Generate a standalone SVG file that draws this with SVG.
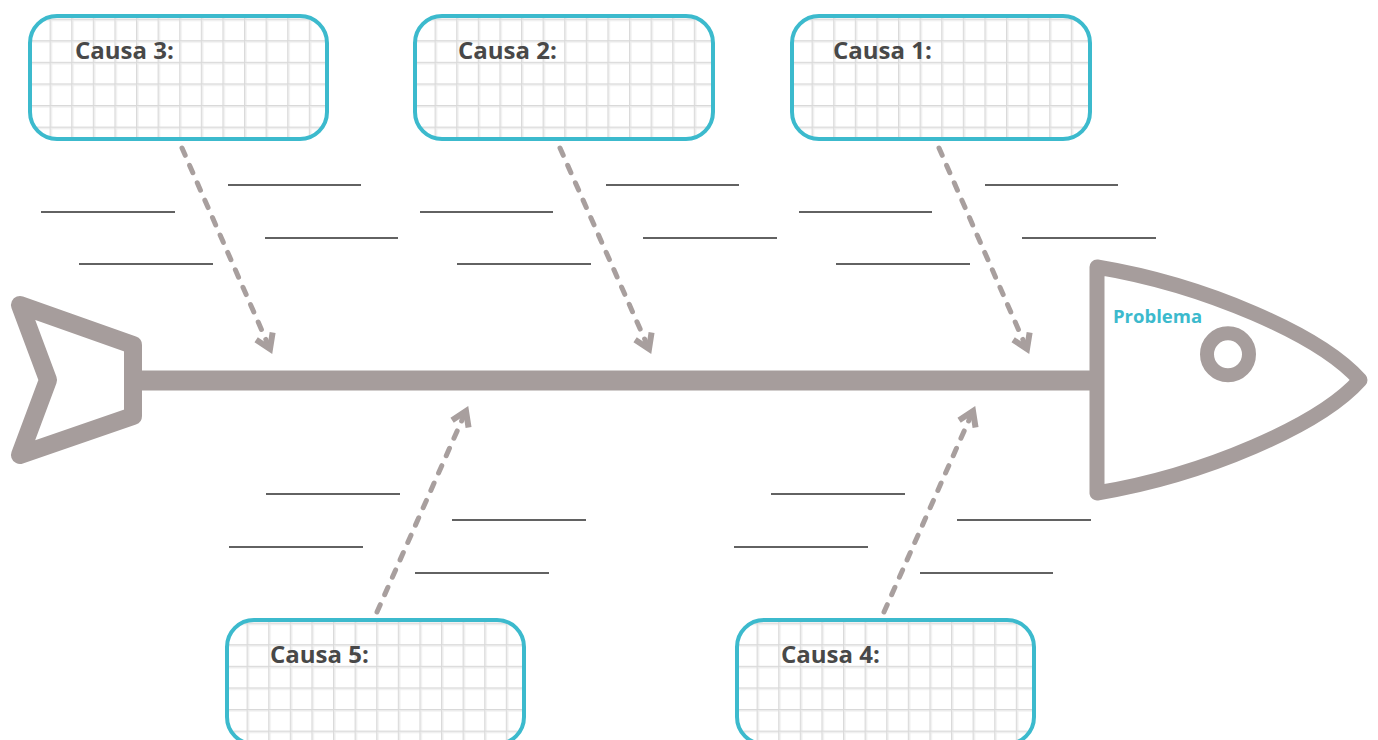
<svg xmlns="http://www.w3.org/2000/svg" width="1378" height="740" viewBox="0 0 1378 740">
  <defs>
    <pattern id="grid" patternUnits="userSpaceOnUse" x="-2" y="2.6" width="21.6" height="21.6">
      <path d="M0,0 V21.6 M0,0 H21.6" stroke="#ececec" stroke-width="5" fill="none"/>
      <path d="M0,0 V21.6 M0,0 H21.6" stroke="#d9d9d9" stroke-width="1.8" fill="none"/>
    </pattern>
    <marker id="chev" markerUnits="userSpaceOnUse" markerWidth="40" markerHeight="40" refX="0" refY="0" viewBox="-20 -20 40 40" orient="auto" overflow="visible">
      <path d="M-14,-9 L0,0 L-14,9" fill="none" stroke="#a89f9e" stroke-width="6" stroke-linejoin="miter"/>
    </marker>
  </defs>
  <style>
    .box { fill: url(#grid); stroke: #3cbacd; stroke-width: 4; }
    .lbl { font-family: "Open Sans", "Liberation Sans", sans-serif; font-weight: 700; font-size: 24px; fill: #484848; }
    .fish { fill: none; stroke: #a69d9c; stroke-linejoin: round; stroke-linecap: round; }
    .spine { fill: none; stroke: #a69d9c; stroke-width: 20; stroke-linecap: butt; }
    .dash { fill: none; stroke: #a89f9e; stroke-width: 5; stroke-dasharray: 8 11; stroke-linecap: round; }
    .blank { stroke: #2e2e2e; stroke-width: 1.6; }
  </style>
  <rect width="1378" height="740" fill="#ffffff"/>

  <g id="fish">
    <path class="fish" stroke-width="18" d="M20,305 L133,345 L133,416 L20,455 L48,380 Z"/>
    <line class="spine" x1="140" y1="380.5" x2="1097" y2="380.5"/>
    <path class="fish" stroke-width="15" d="M1097,267 C1205,285 1320,335 1360,380 C1320,425 1205,475 1097,493 Z"/>
    <circle class="fish" cx="1228" cy="354.3" r="21" stroke-width="14"/>
  </g>
  <g id="problema">
    <text x="1113" y="323" font-family="'Open Sans', 'Liberation Sans', sans-serif" font-weight="700" font-size="18.5" fill="#3cbacd">Problema</text>
  </g>

  <g id="causa3">
    <g transform="translate(30,16)"><rect class="box" x="0" y="0" width="297" height="123" rx="27"/></g>
    <text class="lbl" x="75" y="59">Causa 3:</text>
  </g>
  <g id="causa2">
    <g transform="translate(415,16)"><rect class="box" x="0" y="0" width="298" height="123" rx="27"/></g>
    <text class="lbl" x="458" y="59">Causa 2:</text>
  </g>
  <g id="causa1">
    <g transform="translate(792,16)"><rect class="box" x="0" y="0" width="298" height="123" rx="27"/></g>
    <text class="lbl" x="833" y="59">Causa 1:</text>
  </g>
  <g id="causa5">
    <g transform="translate(227,620)"><rect class="box" x="0" y="0" width="297" height="124" rx="27"/></g>
    <text class="lbl" x="270" y="663">Causa 5:</text>
  </g>
  <g id="causa4">
    <g transform="translate(737,620)"><rect class="box" x="0" y="0" width="297" height="124" rx="27"/></g>
    <text class="lbl" x="781" y="663">Causa 4:</text>
  </g>

  <g id="connectors">
    <line class="dash" x1="182" y1="148" x2="270" y2="349" marker-end="url(#chev)"/>
    <line class="dash" x1="560" y1="148" x2="649" y2="349" marker-end="url(#chev)"/>
    <line class="dash" x1="939" y1="148" x2="1027" y2="349" marker-end="url(#chev)"/>
    <line class="dash" x1="377" y1="612" x2="466" y2="411" marker-end="url(#chev)"/>
    <line class="dash" x1="884" y1="612" x2="973" y2="411" marker-end="url(#chev)"/>
  </g>

  <g id="blanks">
    <line class="blank" x1="228" y1="185" x2="361" y2="185"/>
    <line class="blank" x1="41" y1="212" x2="175" y2="212"/>
    <line class="blank" x1="265" y1="238" x2="398" y2="238"/>
    <line class="blank" x1="79" y1="264" x2="213" y2="264"/>

    <line class="blank" x1="606" y1="185" x2="739" y2="185"/>
    <line class="blank" x1="420" y1="212" x2="553" y2="212"/>
    <line class="blank" x1="643" y1="238" x2="777" y2="238"/>
    <line class="blank" x1="457" y1="264" x2="591" y2="264"/>

    <line class="blank" x1="985" y1="185" x2="1118" y2="185"/>
    <line class="blank" x1="799" y1="212" x2="932" y2="212"/>
    <line class="blank" x1="1022" y1="238" x2="1156" y2="238"/>
    <line class="blank" x1="836" y1="264" x2="970" y2="264"/>

    <line class="blank" x1="266" y1="494" x2="400" y2="494"/>
    <line class="blank" x1="452" y1="520" x2="586" y2="520"/>
    <line class="blank" x1="229" y1="547" x2="363" y2="547"/>
    <line class="blank" x1="415" y1="573" x2="549" y2="573"/>

    <line class="blank" x1="771" y1="494" x2="905" y2="494"/>
    <line class="blank" x1="957" y1="520" x2="1091" y2="520"/>
    <line class="blank" x1="734" y1="547" x2="868" y2="547"/>
    <line class="blank" x1="920" y1="573" x2="1053" y2="573"/>
  </g>
</svg>
